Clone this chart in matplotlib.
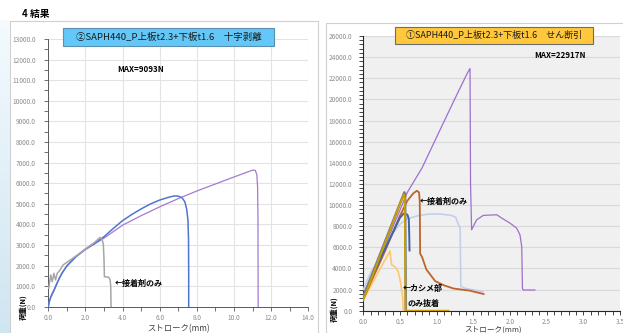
import matplotlib
matplotlib.use("Agg")
import matplotlib.pyplot as plt
from matplotlib.patches import Rectangle
from matplotlib.ticker import MultipleLocator, FormatStrFormatter
import numpy as np

plt.rcParams['font.family'] = ['Noto Sans CJK JP', 'DejaVu Sans']

# ---------------- data: left chart (②十字剥離) ----------------
left_blue_x = [0.0, 0.05, 0.15, 0.3, 0.5, 0.75, 1.0, 1.5, 2.0, 2.5, 3.0, 3.5, 4.0, 4.5, 5.0, 5.5, 6.0, 6.5, 6.8, 7.0, 7.2, 7.35, 7.45, 7.52, 7.55, 7.56, 7.56]
left_blue_y = [0, 250, 520, 800, 1200, 1650, 1980, 2440, 2800, 3080, 3400, 3800, 4180, 4480, 4750, 4990, 5180, 5320, 5380, 5370, 5290, 5100, 4750, 4200, 3300, 1500, 0]
left_purple_x = [0.0, 0.1, 0.3, 0.6, 1.0, 1.5, 2.0, 3.0, 4.0, 5.0, 6.0, 7.0, 8.0, 9.0, 10.0, 10.6, 11.0, 11.15, 11.23, 11.27, 11.29, 11.3]
left_purple_y = [0, 380, 760, 1420, 1980, 2430, 2770, 3330, 3960, 4420, 4850, 5250, 5620, 5960, 6300, 6500, 6630, 6620, 6400, 5800, 4200, 0]
left_gray_x = [0.02, 0.05, 0.13, 0.21, 0.3, 0.39, 0.48, 0.63, 0.8, 1.0, 1.5, 2.0, 2.5, 2.78, 2.9, 2.96, 3.0, 3.02, 3.25, 3.33, 3.36, 3.38]
left_gray_y = [900, 1050, 1540, 1220, 1620, 1300, 1620, 1780, 2030, 2150, 2470, 2800, 3130, 3360, 3250, 3050, 2300, 1460, 1430, 1300, 1000, 0]

# ---------------- data: right chart (①せん断引) ----------------
r_purple_x = [0.0, 0.3, 0.6, 0.8, 1.1, 1.3, 1.42, 1.455, 1.462, 1.477, 1.545, 1.636, 1.82, 1.886, 2.0, 2.09, 2.136, 2.16, 2.17, 2.18, 2.34]
r_purple_y = [1400, 6200, 11200, 13500, 17900, 20800, 22500, 22917, 12000, 7660, 8600, 9020, 9080, 8770, 8290, 7820, 7180, 6080, 2120, 1960, 1960]
r_pale_x = [0.0, 0.1, 0.17, 0.2, 0.3, 0.4, 0.5, 0.6, 0.75, 0.9, 1.05, 1.2, 1.26, 1.3, 1.32, 1.33, 1.4, 1.63]
r_pale_y = [2000, 3600, 4350, 4400, 6000, 7300, 8200, 8700, 9000, 9150, 9150, 9020, 8850, 8100, 7900, 2300, 2100, 1800]
r_dblue_x = [0.0, 0.3, 0.5, 0.55, 0.6, 0.62, 0.627, 0.63]
r_dblue_y = [1500, 5900, 8800, 9200, 9100, 8700, 7000, 5700]
r_gray_x = [0.0, 0.56, 0.57, 0.58]
r_gray_y = [1300, 11200, 10800, 0]
r_lorange_x = [0.0, 0.2, 0.364, 0.386, 0.43, 0.477, 0.51, 0.536, 0.545]
r_lorange_y = [1000, 3600, 5660, 4340, 4180, 3700, 2600, 1330, 0]
r_brown_x = [0.0, 0.3, 0.5, 0.6, 0.68, 0.73, 0.76, 0.77, 0.775, 0.8, 0.86, 0.98, 1.1, 1.23, 1.45, 1.64]
r_brown_y = [1100, 5700, 9000, 10400, 11100, 11350, 11200, 10300, 5400, 5100, 3900, 2800, 2400, 2100, 1900, 1580]
r_gold_x = [0.0, 0.55, 0.565, 0.575, 0.6, 1.16]
r_gold_y = [1000, 11000, 10600, 0, 0, 0]

left_title = "②SAPH440_P上板t2.3+下板t1.6　十字剥離"
right_title = "①SAPH440_P上板t2.3+下板t1.6　せん断引"
left_max = "MAX=9093N"
right_max = "MAX=22917N"
ylabel = "荷重(N)"
xlabel = "ストローク(mm)"

W, H = 623, 333
fig = plt.figure(figsize=(W / 100, H / 100), dpi=100)
fig.patch.set_facecolor('white')

def fx(px):
    return px / W

def fy(py):
    return 1 - py / H

def frect(x0, y0, x1, y1, **kw):
    r = Rectangle((fx(x0), fy(y1)), fx(x1) - fx(x0), (y1 - y0) / H,
                  transform=fig.transFigure, **kw)
    fig.add_artist(r)
    return r

# slide background strip on the far left
bg = fig.add_axes([0, 0, fx(10), fy(20)])
grad = np.linspace(0, 1, 100)[:, None] * np.ones((1, 10))
bg.imshow(grad, aspect='auto', cmap=matplotlib.colors.LinearSegmentedColormap.from_list(
    'b', ['#f4fafd', '#cfe6f2']), extent=[0, 1, 0, 1])
bg.axis('off')

# panel frames
frect(10, 21, 318, 340, facecolor='white', edgecolor='#d0d0d0', lw=0.8, zorder=0)
frect(326, 23, 628, 340, facecolor='white', edgecolor='#d0d0d0', lw=0.8, zorder=0)

fig.text(fx(22), fy(14), "4 結果", fontsize=7, fontweight='bold', va='center', ha='left')

tick_kw = dict(labelsize=4.7, labelcolor='#8c8c8c', color='#595959', length=3, width=0.6, direction='out')

# ---------------- left axes ----------------
axL = fig.add_axes([fx(48.3), fy(306.7), (308.3 - 48.3) / W, (306.7 - 39) / H])
axL.set_facecolor('white')
axL.plot(left_purple_x, left_purple_y, color='#a679d2', lw=0.9, zorder=3)
axL.plot(left_blue_x, left_blue_y, color='#4f76cf', lw=1.1, zorder=4)
axL.plot(left_gray_x, left_gray_y, color='#a6a6a6', lw=1.1, zorder=5)
axL.set_xlim(0, 14)
axL.set_ylim(0, 13000)
axL.xaxis.set_major_locator(MultipleLocator(2))
axL.xaxis.set_minor_locator(MultipleLocator(1))
axL.yaxis.set_major_locator(MultipleLocator(1000))
axL.yaxis.set_minor_locator(MultipleLocator(500))
axL.xaxis.set_major_formatter(FormatStrFormatter('%.1f'))
axL.yaxis.set_major_formatter(FormatStrFormatter('%.1f'))
axL.grid(True, which='major', color='#e3e3e3', lw=0.8)
axL.set_axisbelow(True)
axL.tick_params(which='both', **tick_kw)
axL.tick_params(axis='y', pad=6)
axL.tick_params(axis='x', pad=2)
for s in ['top', 'right']:
    axL.spines[s].set_visible(False)
for s in ['left', 'bottom']:
    axL.spines[s].set_color('#595959')
    axL.spines[s].set_linewidth(0.7)

# ---------------- right axes ----------------
axR = fig.add_axes([fx(363.3), fy(310.7), (620 - 363.3) / W, (310.7 - 36) / H])
axR.set_facecolor('#f0f0f0')
axR.plot(r_pale_x, r_pale_y, color='#c3cfeb', lw=1.2, zorder=3)
axR.plot(r_purple_x, r_purple_y, color='#9e6fcf', lw=0.9, zorder=4)
axR.plot(r_lorange_x, r_lorange_y, color='#ffc870', lw=1.2, zorder=4)
axR.plot(r_brown_x, r_brown_y, color='#c0632a', lw=1.3, zorder=5)
axR.plot(r_dblue_x, r_dblue_y, color='#3d64a8', lw=1.4, zorder=5)
axR.plot(r_gray_x, r_gray_y, color='#7f7f7f', lw=1.8, zorder=6)
axR.plot(r_gold_x, r_gold_y, color='#c8a000', lw=1.3, zorder=7)
axR.set_xlim(0, 3.5)
axR.set_ylim(0, 26000)
axR.xaxis.set_major_locator(MultipleLocator(0.5))
axR.xaxis.set_minor_locator(MultipleLocator(0.1))
axR.yaxis.set_major_locator(MultipleLocator(2000))
axR.yaxis.set_minor_locator(MultipleLocator(400))
axR.xaxis.set_major_formatter(FormatStrFormatter('%.1f'))
axR.yaxis.set_major_formatter(FormatStrFormatter('%.1f'))
axR.grid(True, axis='y', which='major', color='#d9d9d9', lw=0.8)
axR.set_axisbelow(True)
axR.tick_params(which='both', **tick_kw)
axR.tick_params(which='both', color='#262626')
axR.tick_params(axis='y', pad=5)
axR.tick_params(axis='x', pad=2.5)
for s in ['top', 'right']:
    axR.spines[s].set_visible(False)
for s in ['left', 'bottom']:
    axR.spines[s].set_color('#262626')
    axR.spines[s].set_linewidth(0.8)

# ---------------- title boxes ----------------
frect(63, 28, 274, 46, facecolor='#63c8f7', edgecolor='#5a8fb0', lw=0.8, zorder=10)
fig.text(fx(168.5), fy(37), left_title, fontsize=6.8, ha='center', va='center', zorder=11, color='#1a1a1a')
frect(395, 27, 593, 44, facecolor='#ffc83c', edgecolor='#6d6d6d', lw=0.8, zorder=10)
fig.text(fx(494), fy(35.5), right_title, fontsize=6.5, ha='center', va='center', zorder=11, color='#1a1a1a')

fig.text(fx(140.5), fy(70), left_max, fontsize=5.8, fontweight='bold', ha='center', va='center')
fig.text(fx(560), fy(55), right_max, fontsize=5.8, fontweight='bold', ha='center', va='center')

# annotations
fig.text(fx(115), fy(283), "←接着剤のみ", fontsize=5.8, fontweight='bold', ha='left', va='center')
fig.text(fx(420), fy(201), "←接着剤のみ", fontsize=5.8, fontweight='bold', ha='left', va='center')
fig.text(fx(403), fy(289), "←カシメ部", fontsize=5.8, fontweight='bold', ha='left', va='center')
fig.text(fx(408), fy(303), "のみ抜着", fontsize=5.8, fontweight='bold', ha='left', va='center')

# axis labels
fig.text(fx(23), fy(307), ylabel, fontsize=5.3, fontweight='bold', rotation=90, ha='center', va='center')
fig.text(fx(334), fy(309), ylabel, fontsize=5.3, fontweight='bold', rotation=90, ha='center', va='center')
fig.text(fx(178), fy(329), xlabel, fontsize=6, ha='center', va='center', color='#404040')
fig.text(fx(493), fy(329.3), xlabel, fontsize=5.5, ha='center', va='center', color='#404040')

fig.savefig('out.png', dpi=100)
